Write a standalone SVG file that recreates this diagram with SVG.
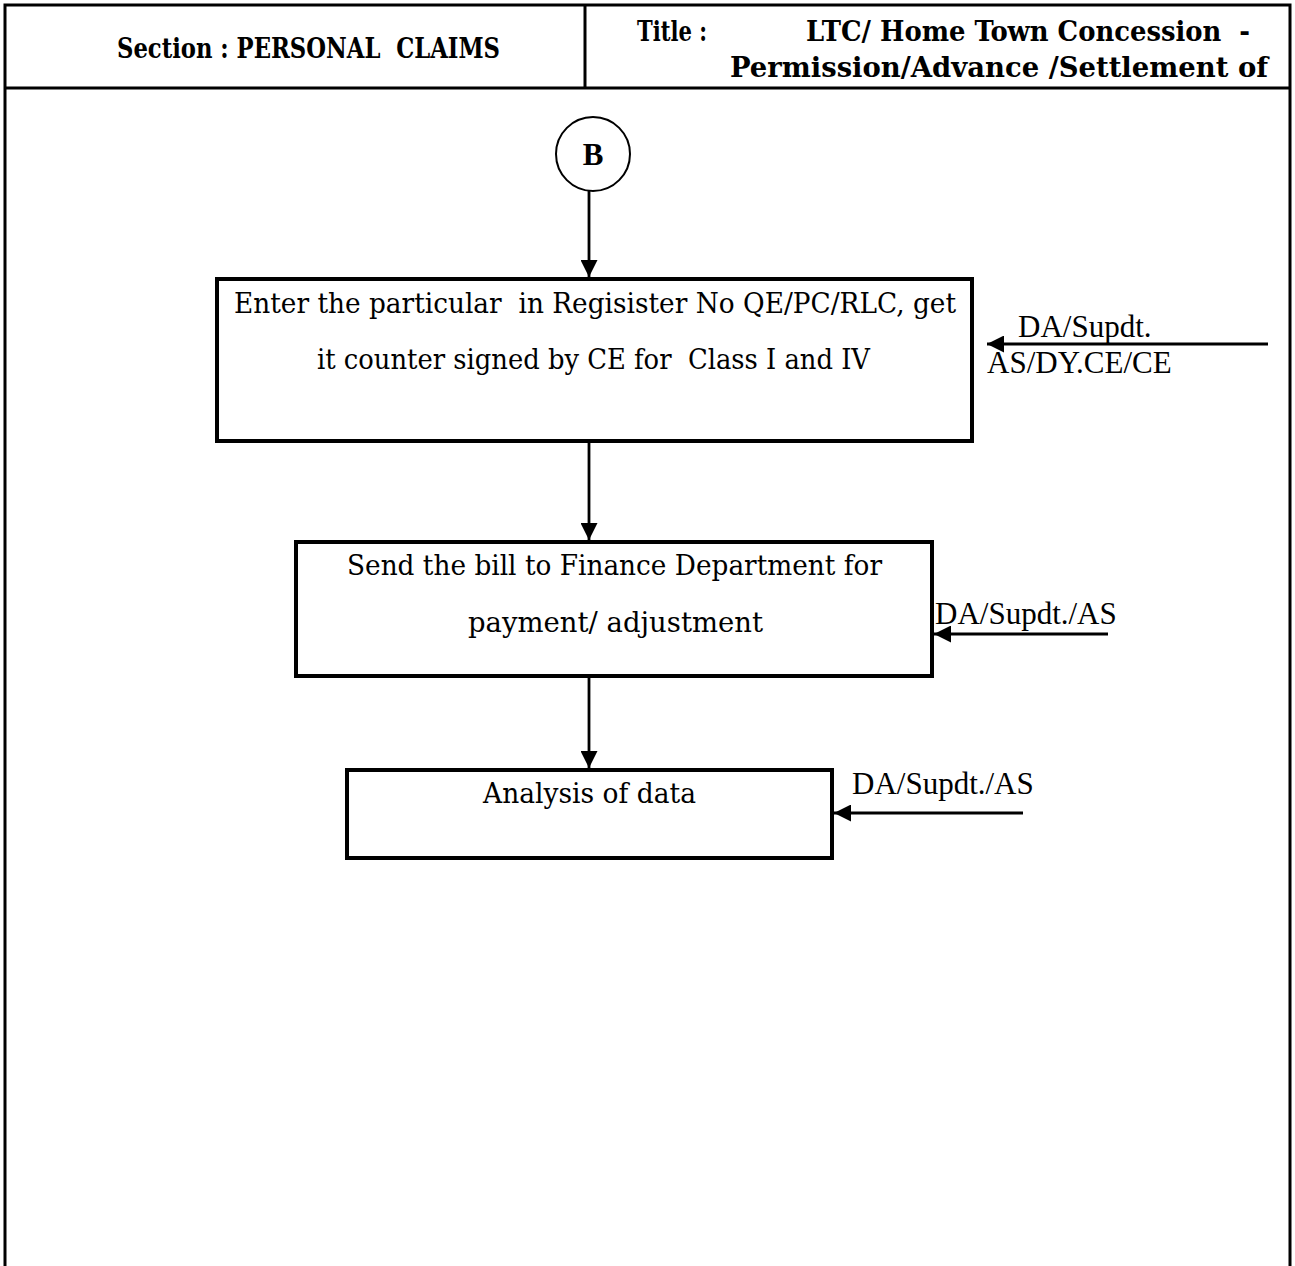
<svg xmlns="http://www.w3.org/2000/svg" width="1295" height="1266" viewBox="0 0 1295 1266">
  <style>
    .frame { fill: none; stroke: #000; stroke-width: 3; }
    .box { fill: #fff; stroke: #000; stroke-width: 4; }
    .conn { fill: none; stroke: #000; stroke-width: 2.8; }
    .hdr { font-family: "DejaVu Serif Condensed", "DejaVu Serif", serif; font-weight: bold; font-size: 28px; fill: #000; white-space: pre; }
    .body { font-family: "DejaVu Serif", serif; font-size: 28.5px; fill: #000; white-space: pre; }
    .role { font-family: "Liberation Serif", "Times New Roman", serif; font-size: 31px; fill: #000; }
  </style>
  <defs>
    <marker id="arrow" markerUnits="userSpaceOnUse" markerWidth="17" markerHeight="17" viewBox="0 0 17 17" refX="17" refY="8.5" orient="auto">
      <path d="M0,0 L17,8.5 L0,17 Z" fill="#000"/>
    </marker>
  </defs>

  <rect width="1295" height="1266" fill="#fff"/>

  <!-- page frame and header -->
  <g id="frame">
    <path class="frame" d="M5,1266 V5 H1290 V1266"/>
    <line class="frame" x1="5" y1="88" x2="1290" y2="88"/>
    <line class="frame" x1="585" y1="5" x2="585" y2="88"/>
    <text class="hdr" x="117" y="58" textLength="383" lengthAdjust="spacingAndGlyphs">Section : PERSONAL  CLAIMS</text>
    <text class="hdr" x="637" y="41" textLength="70" lengthAdjust="spacingAndGlyphs">Title :</text>
    <text class="hdr" x="806" y="41" textLength="444" lengthAdjust="spacingAndGlyphs">LTC/ Home Town Concession  -</text>
    <text class="hdr" x="730" y="77" textLength="538" lengthAdjust="spacingAndGlyphs">Permission/Advance /Settlement of</text>
  </g>

  <!-- connector B -->
  <g id="node-b">
    <circle cx="593" cy="154" r="37" fill="#fff" stroke="#000" stroke-width="2"/>
    <text x="593" y="165" text-anchor="middle" font-family="Liberation Serif, serif" font-weight="bold" font-size="31">B</text>
  </g>

  <g id="node-register">
    <rect class="box" x="217" y="279" width="755" height="162"/>
    <text class="body" x="234" y="313" textLength="722" lengthAdjust="spacingAndGlyphs">Enter the particular  in Regisister No QE/PC/RLC, get</text>
    <text class="body" x="317" y="369" textLength="553" lengthAdjust="spacingAndGlyphs">it counter signed by CE for  Class I and IV</text>
  </g>

  <g id="node-finance">
    <rect class="box" x="296" y="542" width="636" height="134"/>
    <text class="body" x="347" y="575" textLength="535" lengthAdjust="spacingAndGlyphs">Send the bill to Finance Department for</text>
    <text class="body" x="468" y="632" textLength="295" lengthAdjust="spacingAndGlyphs">payment/ adjustment</text>
  </g>

  <g id="node-analysis">
    <rect class="box" x="347" y="770" width="485" height="88"/>
    <text class="body" x="483" y="803" textLength="213" lengthAdjust="spacingAndGlyphs">Analysis of data</text>
  </g>

  <!-- flow connectors and role inputs -->
  <g id="connectors">
    <line class="conn" x1="589" y1="191" x2="589" y2="277" marker-end="url(#arrow)"/>
    <line class="conn" x1="589" y1="443" x2="589" y2="540" marker-end="url(#arrow)"/>
    <line class="conn" x1="589" y1="678" x2="589" y2="768" marker-end="url(#arrow)"/>
    <line class="conn" x1="1268" y1="344" x2="987" y2="344" marker-end="url(#arrow)"/>
    <line class="conn" x1="1108" y1="634" x2="934" y2="634" marker-end="url(#arrow)"/>
    <line class="conn" x1="1023" y1="813" x2="834" y2="813" marker-end="url(#arrow)"/>
  </g>

  <g id="roles">
    <text class="role" x="1018" y="337">DA/Supdt.</text>
    <text class="role" x="987" y="373">AS/DY.CE/CE</text>
    <text class="role" x="935" y="624">DA/Supdt./AS</text>
    <text class="role" x="852" y="794">DA/Supdt./AS</text>
  </g>
</svg>
